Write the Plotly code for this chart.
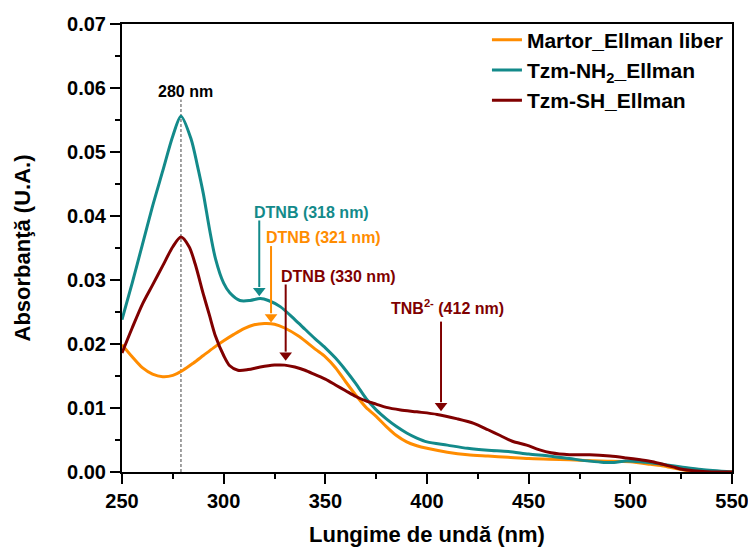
import plotly.graph_objects as go

# ---- data ----
wl_martor = [250, 255, 260, 265, 270, 275, 280, 285, 290, 295, 300, 305, 310, 315, 320, 325, 330,
             337, 345, 350, 355, 360, 365, 370, 375, 380, 385, 390, 395, 400, 410, 420, 430, 440,
             450, 460, 470, 485, 500, 510, 515, 520, 525, 530, 535, 550]
abs_martor = [0.0199, 0.0180, 0.0163, 0.0153, 0.0149, 0.0151, 0.0159, 0.0170, 0.0182, 0.0194,
              0.0205, 0.0215, 0.0224, 0.0230, 0.0232, 0.0231, 0.0225, 0.0212, 0.0192, 0.0180,
              0.0163, 0.0141, 0.0120, 0.0101, 0.0087, 0.0071, 0.0057, 0.0047, 0.0041, 0.0037,
              0.0031, 0.0027, 0.0025, 0.0023, 0.0021, 0.0020, 0.0019, 0.0017, 0.0016, 0.0012,
              0.0010, 0.0007, 0.0004, 0.0001, 0.0000, 0.0000]

wl_nh2 = [250, 255, 260, 265, 270, 275, 279, 284, 287, 290, 293, 296, 300, 303, 308, 313, 318,
          322, 328, 335, 340, 345, 350, 355, 360, 365, 370, 375, 380, 385, 390, 395, 400, 410,
          420, 430, 440, 450, 460, 470, 480, 487, 492, 498, 505, 511, 518, 525, 535, 550]
abs_nh2 = [0.0238, 0.0295, 0.0355, 0.0415, 0.0470, 0.0525, 0.0556, 0.0520, 0.0480, 0.0435,
           0.0380, 0.0333, 0.0295, 0.0280, 0.0268, 0.0268, 0.0271, 0.0268, 0.0258, 0.0238,
           0.0223, 0.0208, 0.0194, 0.0178, 0.0159, 0.0138, 0.0115, 0.0097, 0.0083, 0.0071,
           0.0061, 0.0053, 0.0047, 0.0042, 0.0037, 0.0034, 0.0032, 0.0028, 0.0025, 0.0021,
           0.0017, 0.0015, 0.0015, 0.0017, 0.0016, 0.0014, 0.0011, 0.0008, 0.0004, 0.0000]

wl_sh = [250, 255, 260, 265, 270, 275, 279, 283, 286, 290, 293, 296, 300, 303, 307, 312, 318,
         325, 330, 335, 340, 345, 350, 355, 360, 365, 370, 375, 380, 387, 395, 405, 415, 423,
         430, 436, 442, 449, 455, 461, 470, 480, 490, 498, 505, 511, 516, 521, 526, 531, 540, 550]
abs_sh = [0.0186, 0.0225, 0.0262, 0.0292, 0.0322, 0.0352, 0.0367, 0.0352, 0.0325, 0.0278,
          0.0245, 0.0212, 0.0182, 0.0166, 0.0159, 0.0160, 0.0164, 0.0167, 0.0167, 0.0164,
          0.0159, 0.0152, 0.0145, 0.0136, 0.0127, 0.0118, 0.0111, 0.0106, 0.0101, 0.0097,
          0.0094, 0.0090, 0.0083, 0.0076, 0.0066, 0.0057, 0.0048, 0.0042, 0.0035, 0.0030,
          0.0027, 0.0027, 0.0025, 0.0022, 0.0019, 0.0016, 0.0012, 0.0008, 0.0004, 0.0002,
          0.0000, 0.0000]

series_names = ["Martor_Ellman liber", "Tzm-NH<sub>2</sub>_Ellman", "Tzm-SH_Ellman"]
series_colors = ["#FF8C00", "#138A8A", "#800000"]

# arrow annotations: label, wavelength, tip absorbance, tail absorbance, label position
arrow_labels = ["DTNB (318 nm)", "DTNB (321 nm)", "DTNB (330 nm)", "TNB<sup>2-</sup> (412 nm)"]
arrow_x = [317.5, 323.3, 330.5, 406.9]
arrow_tip = [0.0274, 0.0233, 0.0173, 0.0094]
arrow_tail = [0.0393, 0.0353, 0.0293, 0.0235]
label_x = [343.0, 349.1, 356.7, 410.1]
label_y = [0.0405, 0.0366, 0.0305, 0.0258]
arrow_colors = ["#138A8A", "#FF8C00", "#800000", "#800000"]

peak_wl = 279
peak_label = "280 nm"

FONT = "Liberation Sans, Arial, sans-serif"
Y_PER_PX = 0.07 / 448.0   # data units per pixel on the y axis
HEAD_PX = 12              # arrow head length in px

fig = go.Figure()
for wl, ab, name, col in zip([wl_martor, wl_nh2, wl_sh], [abs_martor, abs_nh2, abs_sh],
                             series_names, series_colors):
    fig.add_trace(go.Scatter(x=wl, y=ab, mode="lines", name=name,
                             line=dict(color=col, width=3, shape="spline", smoothing=0.8)))

# dashed line at 280 nm
fig.add_shape(type="line", xref="x", yref="y", x0=peak_wl, x1=peak_wl, y0=0, y1=0.0582,
              line=dict(color="#444444", width=1, dash="3px,2px"), layer="below")
fig.add_annotation(x=281, y=0.0594, xref="x", yref="y", text="<b>" + peak_label + "</b>",
                   showarrow=False, font=dict(family=FONT, size=16, color="black"))

# arrows: shaft as shape, head as triangle marker
for lab, ax_, tip, tail, lx, ly, col in zip(arrow_labels, arrow_x, arrow_tip, arrow_tail,
                                             label_x, label_y, arrow_colors):
    fig.add_shape(type="line", xref="x", yref="y", x0=ax_, x1=ax_,
                  y0=tail, y1=tip + HEAD_PX * 0.8 * Y_PER_PX,
                  line=dict(color=col, width=2))
    fig.add_trace(go.Scatter(x=[ax_], y=[tip + HEAD_PX * 0.5 * Y_PER_PX], mode="markers",
                             marker=dict(symbol="triangle-down", size=11, color=col,
                                         line=dict(width=0)),
                             showlegend=False, hoverinfo="skip"))
    fig.add_annotation(x=lx, y=ly, xref="x", yref="y", text="<b>" + lab + "</b>",
                       showarrow=False, font=dict(family=FONT, size=16, color=col))

axis_common = dict(
    showline=True, linecolor="black", linewidth=2, mirror=True,
    ticks="outside", ticklen=10, tickwidth=2, tickcolor="black",
    showgrid=False, zeroline=False, automargin=False, ticklabeloverflow="allow",
    tickfont=dict(family=FONT, size=20, color="black", weight="bold"),
)

fig.update_xaxes(range=[250, 550], dtick=50, tick0=250,
                 minor=dict(dtick=25, ticks="outside", ticklen=5, tickwidth=2, tickcolor="black"),
                 title=dict(text="Lungime de undă (nm)", standoff=22,
                            font=dict(family=FONT, size=22, color="black", weight="bold")),
                 **axis_common)
fig.update_yaxes(range=[0, 0.07], dtick=0.01, tick0=0, tickformat=".2f",
                 minor=dict(dtick=0.005, ticks="outside", ticklen=5, tickwidth=2, tickcolor="black"),
                 title=dict(text="Absorbanţă (U.A.)", standoff=30,
                            font=dict(family=FONT, size=22, color="black", weight="bold")),
                 **axis_common)

fig.update_layout(
    width=748, height=547,
    margin=dict(l=122, r=16, t=24, b=75),
    paper_bgcolor="white", plot_bgcolor="white",
    legend=dict(x=0.995, y=1.01, xanchor="right", yanchor="top", bgcolor="rgba(0,0,0,0)",
                font=dict(family=FONT, size=21, color="black", weight="bold"),
                tracegroupgap=0, itemwidth=30),
    showlegend=True,
)

fig.write_html("out.html")
